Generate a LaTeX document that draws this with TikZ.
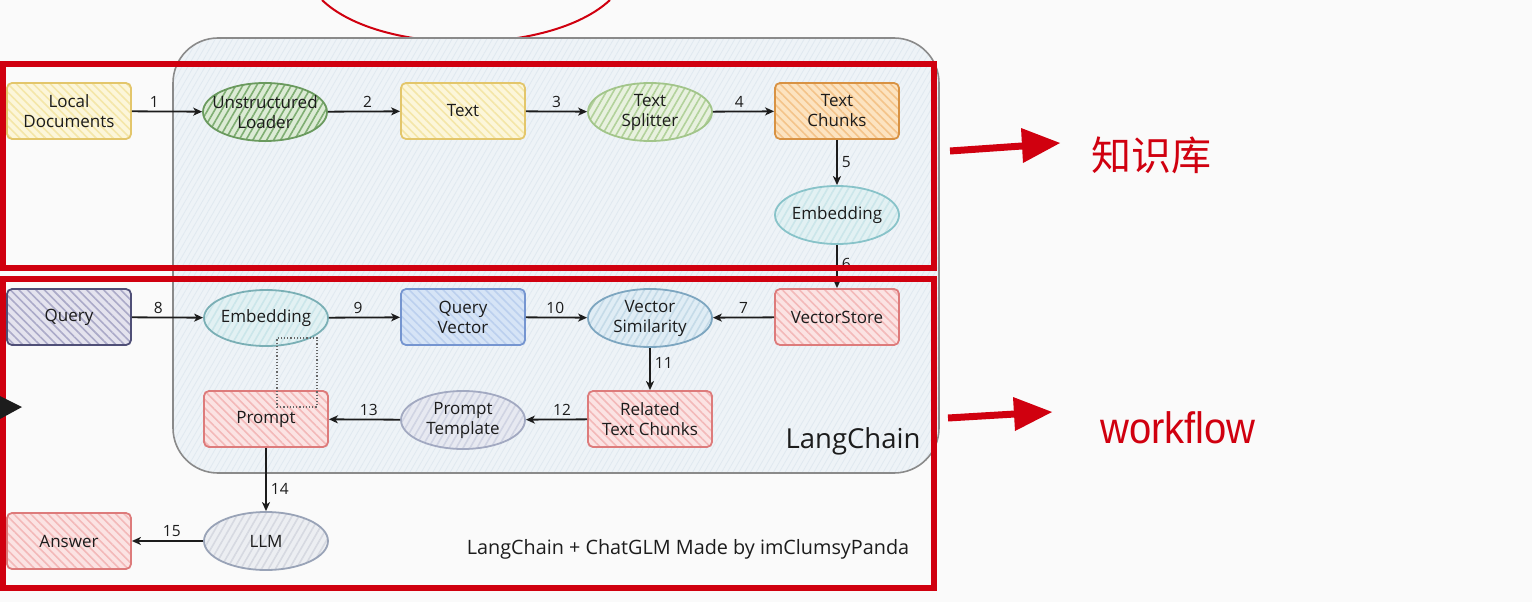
\documentclass[tikz,border=0pt]{standalone}
\usepackage{fontspec}
\setmainfont{Open Sans}
\newfontfamily\cjk{Noto Sans CJK SC}
\newfontfamily\wffont{Liberation Sans}
\usetikzlibrary{shapes.geometric,arrows.meta,patterns.meta}
\definecolor{rd}{HTML}{D0000F}
\definecolor{ink}{HTML}{1C1C1C}
% node palettes: fill / hatch / border
\definecolor{yF}{HTML}{FCF6DA}\definecolor{yH}{HTML}{F4E6A8}\definecolor{yB}{HTML}{E3C66B}
\definecolor{gF}{HTML}{DCEBD5}\definecolor{gH}{HTML}{7FAE73}\definecolor{gB}{HTML}{6A9A5E}
\definecolor{lgF}{HTML}{E8F1DF}\definecolor{lgH}{HTML}{B2D29B}\definecolor{lgB}{HTML}{A2C58A}
\definecolor{oF}{HTML}{FCE3C0}\definecolor{oH}{HTML}{F4C48A}\definecolor{oB}{HTML}{D89243}
\definecolor{tF}{HTML}{E2F1F3}\definecolor{tH}{HTML}{CBE6EA}\definecolor{tB}{HTML}{88C3C9}
\definecolor{pF}{HTML}{E4E3EE}\definecolor{pH}{HTML}{ABAAC8}\definecolor{pB}{HTML}{4F4F77}
\definecolor{bF}{HTML}{D6E4F6}\definecolor{bH}{HTML}{BCD0EE}\definecolor{bB}{HTML}{7595D0}
\definecolor{vF}{HTML}{E0EDF5}\definecolor{vH}{HTML}{C5DBE8}\definecolor{vB}{HTML}{7DA6C0}
\definecolor{rF}{HTML}{FBE3E3}\definecolor{rH}{HTML}{F3B9B9}\definecolor{rB}{HTML}{DD7B7B}
\definecolor{ptF}{HTML}{E7E9F1}\definecolor{ptH}{HTML}{D0D4E3}\definecolor{ptB}{HTML}{A2A9C1}
\definecolor{lF}{HTML}{ECEEF2}\definecolor{lH}{HTML}{D6D9E1}\definecolor{lB}{HTML}{99A3B7}
\definecolor{cF}{HTML}{EEF3F7}\definecolor{cH}{HTML}{E0E9F0}\definecolor{cB}{HTML}{8A8A8A}
\newcommand{\nodefont}{\fontsize{17}{20}\selectfont}
\newcommand{\lblfont}{\fontsize{15.5}{15.5}\selectfont}
\tikzset{
  base/.style={line width=1.8pt, font=\nodefont, align=center, text=ink},
  rectnode/.style={base, rectangle, rounded corners=5pt, minimum width=124pt, minimum height=56pt},
  ellnode/.style={base, ellipse, minimum width=124pt, minimum height=58pt, inner xsep=-14pt, inner ysep=0pt},
  hatch/.style n args={4}{preaction={fill=#1}, pattern={Lines[angle=#4,distance=6pt,line width=1.6pt]}, pattern color=#2, draw=#3},
  conn/.style={draw=ink, line width=1.8pt, -{Stealth[length=9pt,width=8pt,inset=2.5pt]}},
  lbl/.style={font=\lblfont, text=ink, inner sep=1pt},
  redbox/.style={draw=rd, line width=6pt},
}
\begin{document}
\begin{tikzpicture}[x=1pt,y=-1pt]
\useasboundingbox (0,0) rectangle (1532,602);
\fill[white!98!black] (0,0) rectangle (1532,602);
% red sketch arc at top
\draw[rd, line width=2pt] (322,0) .. controls (380,56) and (550,56) .. (610,0);
% LangChain container
\draw[draw=cB, line width=1.6pt, rounded corners=45pt,
      preaction={fill=cF}, pattern={Lines[angle=60,distance=5pt,line width=0.8pt]}, pattern color=cH]
      (173,38) rectangle (939,473);
% nodes row 1
\node[rectnode, hatch={yF}{yH}{yB}{-45}] (ld) at (69,111) {Local\\Documents};
\node[ellnode, hatch={gF}{gH}{gB}{60}] (ul) at (265,112) {Unstructured\\Loader};
\node[rectnode, hatch={yF}{yH}{yB}{-45}] (tx) at (463,111) {Text};
\node[ellnode, hatch={lgF}{lgH}{lgB}{60}] (ts) at (650,112) {Text\\Splitter};
\node[rectnode, hatch={oF}{oH}{oB}{-45}] (tc) at (837,111) {Text\\Chunks};
\node[ellnode, hatch={tF}{tH}{tB}{60}] (em1) at (837,215) {Embedding};
% nodes row 2
\node[rectnode, hatch={pF}{pH}{pB}{-45}] (q) at (69,317) {Query};
\node[ellnode, minimum height=56pt, hatch={tF}{tH}{tB!90!black}{60}] (em2) at (266,318) {Embedding};
\node[rectnode, hatch={bF}{bH}{bB}{-45}] (qv) at (463,317) {Query\\Vector};
\node[ellnode, hatch={vF}{vH}{vB}{60}] (vs) at (650,318) {Vector\\Similarity};
\node[rectnode, hatch={rF}{rH}{rB}{-45}] (vst) at (837,317) {VectorStore};
% nodes row 3
\node[rectnode, hatch={rF}{rH}{rB}{-45}] (pr) at (266,419) {Prompt};
\node[ellnode, hatch={ptF}{ptH}{ptB}{60}] (pt) at (463,420) {Prompt\\Template};
\node[rectnode, hatch={rF}{rH}{rB}{-45}] (rtc) at (650,419) {Related\\Text Chunks};
% nodes row 4
\node[rectnode, hatch={rF}{rH}{rB}{-45}] (ans) at (69,541) {Answer};
\node[ellnode, hatch={lF}{lH}{lB}{60}] (llm) at (266,541) {LLM};
% connectors
\draw[conn] (ld) -- node[lbl, above=2pt, pos=0.32] {1} (ul);
\draw[conn] (ul) -- node[lbl, above=2pt, pos=0.55] {2} (tx);
\draw[conn] (tx) -- node[lbl, above=2pt, pos=0.5] {3} (ts);
\draw[conn] (ts) -- node[lbl, above=2pt, pos=0.43] {4} (tc);
\draw[conn] (tc) -- node[lbl, right=3pt, pos=0.5] {5} (em1);
\draw[conn] (em1) -- node[lbl, right=3pt, pos=0.45] {6} (vst);
\draw[conn] (vst) -- node[lbl, above=2pt, pos=0.5] {7} (vs);
\draw[conn] (q) -- node[lbl, above=2pt, pos=0.37] {8} (em2);
\draw[conn] (em2) -- node[lbl, above=2pt, pos=0.41] {9} (qv);
\draw[conn] (qv) -- node[lbl, above=2pt, pos=0.48] {10} (vs);
\draw[conn] (vs) -- node[lbl, right=3pt, pos=0.36] {11} (rtc);
\draw[conn] (rtc) -- node[lbl, above=2pt, pos=0.41] {12} (pt);
\draw[conn] (pt) -- node[lbl, above=2pt, pos=0.44] {13} (pr);
\draw[conn] (pr) -- node[lbl, right=3pt, pos=0.65] {14} (llm);
\draw[conn] (llm) -- node[lbl, above=2pt, pos=0.44] {15} (ans);
% dotted selection box
\node[draw=black!60, dotted, line width=1.2pt, minimum width=40pt, minimum height=69pt, inner sep=0pt] (sel) at (297,372.5) {};
% texts
\node[font=\fontsize{27.5}{27.5}\selectfont, text=ink] (lc) at (853,441) {LangChain};
\node[font=\fontsize{19.8}{19.8}\selectfont, text=ink] (foot) at (688,549) {LangChain + ChatGLM Made by imClumsyPanda};
% red frames
\draw[redbox] (3,64) rectangle (934,268);
\draw[redbox] (3,279) rectangle (934,588);
% red arrows
\coordinate (a1s) at (950,151);
\coordinate (a1b) at (1022,146);
\coordinate (a1t) at (1060,143);
\draw[rd, line width=7pt] (a1s) -- (a1b);
\fill[rd] (a1t) -- (1021,128) -- (1023,163) -- cycle;
\coordinate (a2s) at (948,418);
\coordinate (a2b) at (1015,414);
\coordinate (a2t) at (1052,412);
\draw[rd, line width=7pt] (a2s) -- (a2b);
\fill[rd] (a2t) -- (1013,397) -- (1015,431) -- cycle;
\node[font=\cjk\fontsize{40}{40}\selectfont, text=rd] (kb) at (1151,155) {知识库};
\node[font=\wffont\fontsize{40}{40}\selectfont, text=rd, yscale=1.1] (wf) at (1178,428) {workflow};
% black triangle at left edge
\fill[ink] (0,396) -- (22,407) -- (0,419) -- cycle;
\end{tikzpicture}
\end{document}
